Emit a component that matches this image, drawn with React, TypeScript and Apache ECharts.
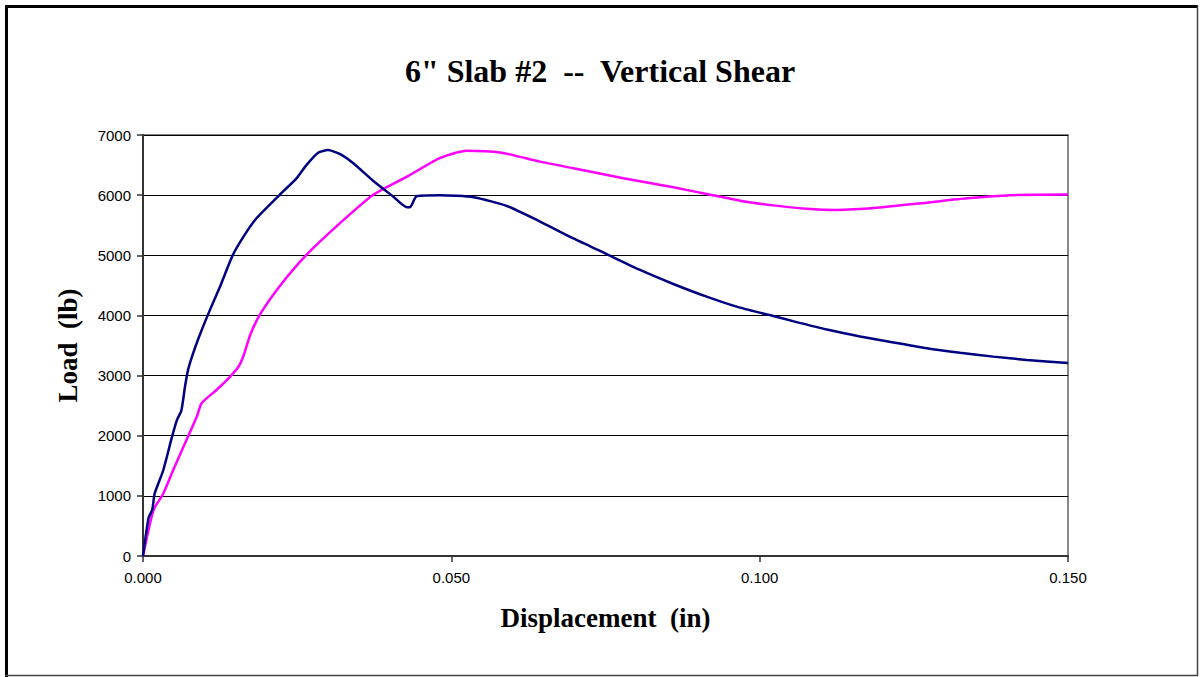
import React, { useEffect, useRef } from "react";
import * as echarts from "echarts";

const xTicks = [0, 0.05, 0.1, 0.15];
const yTicks = [0, 1000, 2000, 3000, 4000, 5000, 6000, 7000];

const navyDisp = [0, 0.0009, 0.0015, 0.0019, 0.0033, 0.0047, 0.0055, 0.0062, 0.0065, 0.0068, 0.0073, 0.008, 0.009, 0.0106, 0.0125, 0.0145, 0.0163, 0.0184, 0.0222, 0.0249, 0.0265, 0.0284, 0.03, 0.0319, 0.0341, 0.0373, 0.0406, 0.0428, 0.0433, 0.0444, 0.0482, 0.0536, 0.059, 0.0644, 0.0698, 0.0752, 0.0806, 0.086, 0.0914, 0.0968, 0.1022, 0.1054, 0.1109, 0.1163, 0.1217, 0.1271, 0.1325, 0.1379, 0.1433, 0.15];
const navyLoad = [0, 630, 770, 1040, 1430, 1980, 2260, 2410, 2590, 2810, 3090, 3330, 3620, 4030, 4480, 4990, 5310, 5615, 6010, 6280, 6500, 6705, 6750, 6685, 6530, 6240, 5975, 5800, 5800, 5985, 6000, 5965, 5820, 5560, 5280, 5020, 4756, 4523, 4312, 4129, 3991, 3905, 3765, 3650, 3550, 3455, 3380, 3315, 3260, 3210];

const pinkDisp = [0, 0.0017, 0.0033, 0.0049, 0.0073, 0.0087, 0.0095, 0.0119, 0.0141, 0.0155, 0.0163, 0.0174, 0.019, 0.0222, 0.0265, 0.0319, 0.0373, 0.0428, 0.0482, 0.0525, 0.0579, 0.0644, 0.0698, 0.0779, 0.086, 0.0914, 0.0968, 0.1022, 0.1076, 0.1125, 0.119, 0.1271, 0.1336, 0.1406, 0.15];
const pinkLoad = [0, 765, 1040, 1430, 1985, 2310, 2540, 2760, 2980, 3150, 3330, 3680, 4020, 4490, 5005, 5530, 6003, 6307, 6620, 6740, 6710, 6557, 6447, 6280, 6130, 6020, 5908, 5830, 5775, 5755, 5790, 5875, 5947, 6000, 6010];

const titleText = '6" Slab #2  --  Vertical Shear';
const xTitle = "Displacement  (in)";
const yTitle = "Load  (lb)";

const serif = "'Liberation Serif', 'Times New Roman', serif";
const sans = "'Liberation Sans', Arial, sans-serif";

export default function App() {
  const ref = useRef<HTMLDivElement>(null);
  useEffect(() => {
    document.body.style.margin = "0";
    const chart = echarts.init(ref.current!, null, { renderer: "svg" });
    const navy = navyDisp.map((d, i) => [d, navyLoad[i]]);
    const pink = pinkDisp.map((d, i) => [d, pinkLoad[i]]);
    chart.setOption({
      animation: false,
      backgroundColor: "#ffffff",
      title: {
        text: titleText,
        left: "center",
        top: 50,
        textStyle: { fontFamily: serif, fontWeight: "bold", fontSize: 32, color: "#000" },
      },
      grid: { left: 143, top: 135, right: 132, bottom: 121, show: true, borderColor: "#888888", borderWidth: 2 },
      xAxis: {
        type: "value",
        min: xTicks[0],
        max: xTicks[xTicks.length - 1],
        interval: 0.05,
        axisLine: { onZero: false, lineStyle: { color: "#333", width: 2 } },
        axisTick: { show: true, inside: false, length: 6, lineStyle: { color: "#333", width: 1.5 } },
        axisLabel: { fontFamily: sans, fontSize: 15, color: "#000", margin: 14, formatter: (v: number) => v.toFixed(3) },
        splitLine: { show: false },
        name: xTitle,
        nameLocation: "middle",
        nameGap: 48,
        nameTextStyle: { fontFamily: serif, fontWeight: "bold", fontSize: 27, color: "#000" },
      },
      yAxis: {
        type: "value",
        min: yTicks[0],
        max: yTicks[yTicks.length - 1],
        interval: 1000,
        axisLine: { show: true, lineStyle: { color: "#333", width: 2 } },
        axisTick: { show: true, inside: false, length: 6, lineStyle: { color: "#333", width: 1.5 } },
        axisLabel: { fontFamily: sans, fontSize: 15, color: "#000", margin: 12, formatter: (v: number) => String(v) },
        splitLine: { show: true, lineStyle: { color: "#000", width: 1.2 } },
        name: yTitle,
        nameLocation: "middle",
        nameGap: 62,
        nameTextStyle: { fontFamily: serif, fontWeight: "bold", fontSize: 27, color: "#000" },
      },
      graphic: [
        { type: "line", shape: { x1: 5, y1: 6.5, x2: 1198, y2: 6.5 }, style: { stroke: "#000", lineWidth: 3 } },
        { type: "line", shape: { x1: 6.5, y1: 5, x2: 6.5, y2: 677 }, style: { stroke: "#000", lineWidth: 3 } },
        { type: "line", shape: { x1: 1197.5, y1: 5, x2: 1197.5, y2: 676 }, style: { stroke: "#444", lineWidth: 1.5 } },
        { type: "line", shape: { x1: 5, y1: 675.5, x2: 1198, y2: 675.5 }, style: { stroke: "#444", lineWidth: 1.5 } },
      ],
      series: [
        {
          type: "line",
          data: navy,
          showSymbol: false,
          smooth: 0.2,
          lineStyle: { color: "#000080", width: 2.5 },
          z: 3,
        },
        {
          type: "line",
          data: pink,
          showSymbol: false,
          smooth: 0.2,
          lineStyle: { color: "#ff00ff", width: 2.5 },
          z: 2,
        },
      ],
    });
    return () => chart.dispose();
  }, []);
  return <div ref={ref} style={{ width: 1200, height: 677, position: "absolute", left: 0, top: 0 }} />;
}
